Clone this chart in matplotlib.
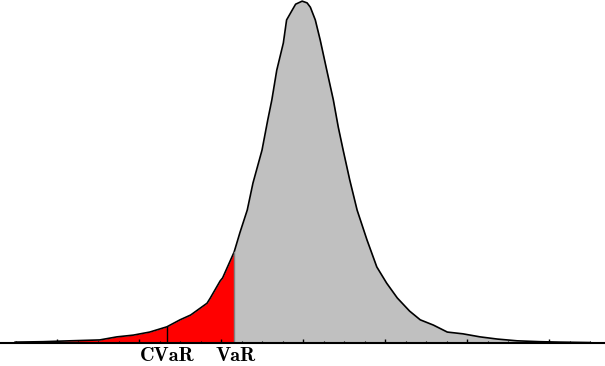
import numpy as np
import matplotlib
matplotlib.use("Agg")
import matplotlib.pyplot as plt
from matplotlib.ticker import MultipleLocator, NullFormatter

# density curve (x in axis units, y = density)
x_vals = [-3.51, -3.17, -2.84, -2.48, -2.27, -2.07, -1.87, -1.66, -1.50, -1.37,
          -1.17, -1.13, -1.01, -0.98, -0.84, -0.77, -0.68, -0.61, -0.50, -0.43,
          -0.38, -0.32, -0.24, -0.20, -0.13, -0.09, -0.01, 0.05, 0.09, 0.15,
          0.21, 0.29, 0.37, 0.43, 0.49, 0.57, 0.66, 0.78, 0.90, 1.02,
          1.15, 1.30, 1.43, 1.59, 1.76, 1.95, 2.16, 2.37, 2.61, 2.89,
          3.13, 3.50]
y_vals = [0.002, 0.003, 0.005, 0.007, 0.014, 0.018, 0.025, 0.037, 0.053, 0.064,
          0.091, 0.103, 0.142, 0.149, 0.208, 0.252, 0.304, 0.366, 0.441, 0.510,
          0.556, 0.624, 0.686, 0.739, 0.762, 0.775, 0.782, 0.778, 0.768, 0.739,
          0.693, 0.624, 0.556, 0.494, 0.441, 0.373, 0.304, 0.236, 0.174, 0.137,
          0.103, 0.073, 0.053, 0.041, 0.025, 0.021, 0.014, 0.009, 0.005, 0.003,
          0.002, 0.001]

var_x = -0.84
cvar_x = -1.66
labels = ["CVaR", "VaR"]

x = np.array(x_vals)
y = np.array(y_vals)

fig = plt.figure(figsize=(6.05, 3.66), dpi=100)
ax = fig.add_axes([0, 23 / 366, 1, 343 / 366])

# gray body and red tail
right = x >= var_x
ax.fill_between(x[right], 0, y[right], color="#c0c0c0", lw=0)
left = (x <= var_x) & (x >= -3.2)
ax.fill_between(x[left], 0, y[left], color="#ff0000", lw=0)
ax.plot(x, y, color="black", lw=1.2)

# VaR edge and CVaR marker
ax.plot([var_x, var_x], [0, np.interp(var_x, x, y)], color="#808080", lw=1)
ax.plot([cvar_x, cvar_x], [0, np.interp(cvar_x, x, y)], color="black", lw=1)

ax.set_xlim(-303 / 82, 302 / 82)
ax.set_ylim(0, 0.7846)

for s in ["top", "left", "right"]:
    ax.spines[s].set_visible(False)
ax.spines["bottom"].set_linewidth(1.5)
ax.set_yticks([])
ax.xaxis.set_major_locator(MultipleLocator(1))
ax.xaxis.set_minor_locator(MultipleLocator(0.25))
ax.xaxis.set_major_formatter(NullFormatter())
ax.tick_params(axis="x", which="major", direction="in", length=3, width=1)
ax.tick_params(axis="x", which="minor", direction="in", length=1.6, width=0.8)

for lab, pos in zip(labels, [cvar_x, var_x + 0.02]):
    ax.annotate(lab, xy=(pos, 0), xycoords="data", xytext=(0, -3),
                textcoords="offset points", ha="center", va="top",
                fontfamily="cmb10", fontsize=14.5, annotation_clip=False)

fig.savefig("out.png", dpi=100)
